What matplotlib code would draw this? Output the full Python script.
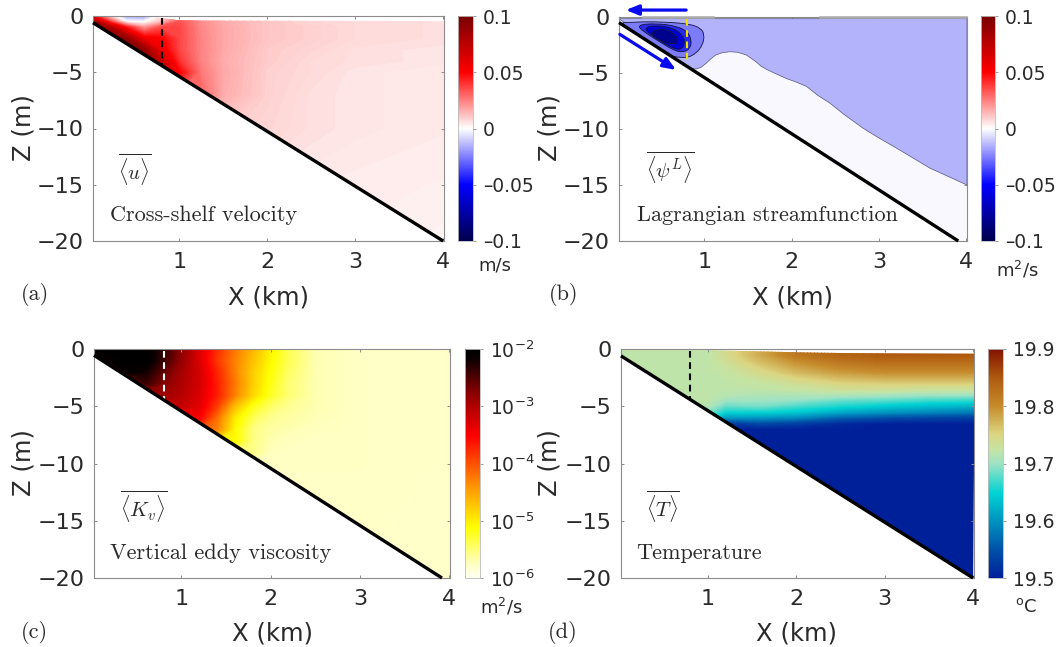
import numpy as np
import matplotlib
matplotlib.use("Agg")
import matplotlib.pyplot as plt
from matplotlib.colors import LinearSegmentedColormap, Normalize
from matplotlib.cm import ScalarMappable
from matplotlib.patches import Polygon, PathPatch
from matplotlib.path import Path

W, H = 1057, 647

# ---------- data ----------
u_x = [0.02, 0.2, 0.4, 0.6, 0.8, 1.0, 1.25, 1.5, 2.0, 2.5, 3.0, 4.02]
u_z = [0, -0.5, -1, -2, -3, -4, -5, -7, -10, -15, -20]
u_vals = [
    [.05, .01, -.02, -.02, .005, .025, .02, .014, .01, .008, .007, .006],
    [.09, .04, .0, -.002, .012, .034, .022, .016, .011, .008, .007, .006],
    [.1, .08, .045, .02, .035, .036, .023, .017, .011, .009, .007, .006],
    [.1, .1, .09, .055, .05, .036, .024, .017, .011, .009, .007, .006],
    [.1, .1, .1, .09, .055, .036, .024, .017, .01, .008, .006, .005],
    [.1, .1, .1, .1, .07, .04, .024, .016, .01, .007, .006, .005],
    [.1, .1, .1, .1, .08, .05, .026, .017, .009, .007, .005, .004],
    [.03, .03, .03, .03, .03, .03, .03, .016, .009, .006, .005, .004],
    [.01, .01, .01, .01, .01, .01, .01, .01, .008, .006, .005, .004],
    [.006, .006, .006, .006, .006, .006, .006, .006, .005, .004, .0035, .003],
    [.004, .004, .004, .004, .004, .004, .004, .004, .004, .003, .003, .002],
]
u_top_x = [0.02, 0.7, 1.0, 4.02]
u_top_z = [-0.05, -0.1, -0.4, -0.45]

k_x = [0.02, 0.2, 0.4, 0.6, 0.8, 1.0, 1.2, 1.4, 1.6, 1.8, 2.0, 2.2, 2.5, 3.0, 4.02]
k_z = [0, -1, -2, -3, -4, -5, -6, -7, -8, -9, -10, -20]
k_log = [
    [-2, -2, -2, -2, -2.35, -2.8, -3.3, -3.8, -4.25, -4.65, -5.05, -5.4, -5.7, -5.78, -5.8],
    [-2.3, -2.1, -2, -2, -2.4, -2.85, -3.3, -3.85, -4.3, -4.7, -5.1, -5.4, -5.7, -5.78, -5.8],
    [-3, -3, -2.1, -2.2, -2.6, -2.95, -3.25, -3.75, -4.3, -4.8, -5.15, -5.45, -5.7, -5.78, -5.8],
    [-3, -3, -3, -2.4, -2.75, -3.0, -3.25, -3.7, -4.25, -4.8, -5.2, -5.5, -5.7, -5.78, -5.8],
    [-3, -3, -3, -3, -2.9, -3.05, -3.3, -3.7, -4.3, -4.85, -5.25, -5.5, -5.7, -5.78, -5.8],
    [-3, -3, -3, -3, -3.1, -3.15, -3.35, -3.9, -4.7, -5.2, -5.45, -5.6, -5.7, -5.78, -5.8],
    [-3.5, -3.5, -3.5, -3.5, -3.5, -3.5, -3.5, -4.2, -5.0, -5.4, -5.6, -5.65, -5.72, -5.78, -5.8],
    [-4, -4, -4, -4, -4, -4, -4, -4.3, -5.1, -5.55, -5.65, -5.7, -5.75, -5.78, -5.8],
    [-5, -5, -5, -5, -5, -5, -5, -5, -5.1, -5.55, -5.7, -5.75, -5.78, -5.78, -5.8],
    [-5.5, -5.5, -5.5, -5.5, -5.5, -5.5, -5.5, -5.5, -5.5, -5.55, -5.75, -5.78, -5.78, -5.78, -5.8],
    [-5.75, -5.75, -5.75, -5.75, -5.75, -5.75, -5.75, -5.75, -5.75, -5.75, -5.78, -5.78, -5.78, -5.78, -5.8],
    [-5.8, -5.8, -5.8, -5.8, -5.8, -5.8, -5.8, -5.8, -5.8, -5.8, -5.8, -5.8, -5.8, -5.8, -5.8],
]
k_top_x = [0.02, 4.02]
k_top_z = [-0.03, -0.1]

t_x = [0.02, 0.5, 1.0, 1.2, 1.6, 2.0, 2.5, 3.0, 3.5, 4.02]
t_z = [0, -0.5, -1, -2, -3, -3.5, -4, -4.5, -5, -5.5, -6, -6.5, -7, -20]
t_vals = [
    [19.72, 19.72, 19.72, 19.74, 19.78, 19.82, 19.84, 19.85, 19.85, 19.85],
    [19.72, 19.72, 19.72, 19.74, 19.78, 19.82, 19.84, 19.85, 19.85, 19.85],
    [19.72, 19.72, 19.72, 19.735, 19.77, 19.80, 19.825, 19.835, 19.835, 19.835],
    [19.72, 19.72, 19.72, 19.725, 19.745, 19.77, 19.79, 19.80, 19.80, 19.80],
    [19.72, 19.72, 19.72, 19.72, 19.725, 19.735, 19.75, 19.755, 19.755, 19.755],
    [19.72, 19.72, 19.72, 19.72, 19.72, 19.725, 19.735, 19.735, 19.73, 19.73],
    [19.72, 19.72, 19.72, 19.715, 19.71, 19.71, 19.71, 19.705, 19.70, 19.70],
    [19.72, 19.72, 19.72, 19.70, 19.70, 19.695, 19.68, 19.675, 19.665, 19.66],
    [19.72, 19.72, 19.71, 19.68, 19.685, 19.67, 19.655, 19.64, 19.63, 19.62],
    [19.72, 19.72, 19.69, 19.65, 19.65, 19.64, 19.615, 19.60, 19.59, 19.58],
    [19.72, 19.72, 19.66, 19.60, 19.60, 19.59, 19.56, 19.545, 19.535, 19.53],
    [19.6, 19.6, 19.56, 19.52, 19.54, 19.53, 19.51, 19.5, 19.5, 19.5],
    [19.5, 19.5, 19.5, 19.5, 19.5, 19.5, 19.5, 19.5, 19.5, 19.5],
    [19.5, 19.5, 19.5, 19.5, 19.5, 19.5, 19.5, 19.5, 19.5, 19.5],
]
t_top_x = [0.02, 1.0, 1.8, 2.5, 4.02]
t_top_z = [-0.05, -0.1, -0.25, -0.35, -0.4]

# outer streamfunction contour
psi0_x = [0.02, 4.01, 4.01, 3.586, 3.2, 3.0, 2.82, 2.6, 2.44, 2.3, 2.17, 2.05, 1.94, 1.8, 1.71, 1.65, 1.59, 1.48, 1.38, 1.29, 1.2, 1.13, 1.07, 1.02, 0.96, 0.905, 0.81]
psi0_z = [-0.15, -0.15, -15, -13.5, -11.7, -10.8, -9.94, -8.7, -7.7, -7.0, -6.2, -5.8, -5.5, -5.0, -4.67, -4.4, -3.99, -3.39, -3.15, -3.1, -3.2, -3.39, -3.75, -4.13, -4.5, -4.64, -4.6]
psi1_x = [0.03, 0.118, 0.29, 0.56, 0.83, 0.96, 1.0, 0.98, 0.905, 0.81, 0.69, 0.56, 0.3]
psi1_z = [-0.5, -0.5, -0.42, -0.45, -0.62, -1.0, -1.6, -2.5, -3.24, -3.63, -3.6, -3.4, -2.0]
psi2_x = [0.215, 0.445, 0.675, 0.81, 0.85, 0.84, 0.75, 0.64, 0.485, 0.33]
psi2_z = [-0.71, -0.57, -0.8, -1.31, -2.05, -2.8, -3.18, -2.95, -2.2, -1.46]
psi3_x = [0.29, 0.445, 0.64, 0.75, 0.78, 0.73, 0.62, 0.445]
psi3_z = [-1.0, -0.72, -1.0, -1.6, -2.35, -2.95, -2.75, -1.9]
psi4_x = [0.39, 0.52, 0.655, 0.705, 0.655, 0.52, 0.41]
psi4_z = [-1.3, -1.0, -1.45, -2.2, -2.45, -2.2, -1.75]

# bottom line: shore depth and end of the slope
bed_a = ([0.02, 4.0], [-0.6, -20])
bed_b = ([0.02, 3.91], [-0.5, -20])
bed_c = ([0.02, 3.92], [-0.55, -20])
bed_d = ([0.02, 4.0], [-0.6, -20])

break_x = 0.8
x_ticks = [1, 2, 3, 4]
z_ticks = [0, -5, -10, -15, -20]
x_ticklabels = ["1", "2", "3", "4"]
z_ticklabels = ["0", "\u22125", "\u221210", "\u221215", "\u221220"]
vel_ticks = [0.1, 0.05, 0, -0.05, -0.1]
vel_ticklabels = ["0.1", "0.05", "0", "\u20130.05", "\u20130.1"]
kv_ticks = [-2, -3, -4, -5, -6]
kv_ticklabels = [r"$\mathdefault{10^{-2}}$", r"$\mathdefault{10^{-3}}$", r"$\mathdefault{10^{-4}}$",
                 r"$\mathdefault{10^{-5}}$", r"$\mathdefault{10^{-6}}$"]
temp_ticks = [19.9, 19.8, 19.7, 19.6, 19.5]
temp_ticklabels = ["19.9", "19.8", "19.7", "19.6", "19.5"]

# ---------- colour maps ----------
cm_rb = LinearSegmentedColormap.from_list("rb", [
    (0, "#00004c"), (0.25, "#0000ff"), (0.5, "#ffffff"), (0.75, "#ff0000"), (1, "#780000")], N=512)
cm_kv = LinearSegmentedColormap.from_list("kv", [
    (0, "#fffff4"), (0.07, "#ffffb8"), (0.22, "#ffff00"), (0.39, "#ff9a00"), (0.62, "#ff0000"),
    (0.8, "#900000"), (0.96, "#0a0000"), (1, "#000000")], N=512)
cm_t = LinearSegmentedColormap.from_list("t", [
    (0, "#00209a"), (0.12, "#0050a8"), (0.25, "#0094c0"), (0.37, "#00d2d2"), (0.5, "#9fe3c4"),
    (0.56, "#c4e4a4"), (0.63, "#dcd480"), (0.75, "#c68c2c"), (0.87, "#b05c10"), (1, "#821200")], N=512)

# ---------- helpers ----------
fig = plt.figure(figsize=(W / 100, H / 100), dpi=100)
GREY = "#8c8c8c"
TXT = "#2a2a2a"


def px_axes(l, r, t, b):
    return fig.add_axes([l / W, 1 - b / H, (r - l) / W, (b - t) / H])


def ftext(px, py, s, **kw):
    return fig.text(px / W, 1 - py / H, s, **kw)


def style(ax):
    ax.set_xlim(0.02, 4.01)
    ax.set_ylim(-20, 0)
    ax.set_xticks(x_ticks, x_ticklabels)
    ax.set_yticks(z_ticks, z_ticklabels)
    ax.tick_params(axis="both", direction="in", length=2.5, width=0.7, color=GREY,
                   labelsize=16, labelcolor=TXT, top=True, right=True)
    ax.tick_params(axis="y", pad=7)
    ax.tick_params(axis="x", pad=8)
    for s in ax.spines.values():
        s.set_color(GREY)
        s.set_linewidth(0.8)


def wedge(top_x, top_z, bed, extra=None):
    pts = list(zip(top_x, top_z))
    if extra:
        pts += extra
    pts += [(bed[0][1], bed[1][1]), (bed[0][0], bed[1][0])]
    return pts


def field(ax, xs, zs, vals, cmap, vmin, vmax, clip_pts):
    lev = np.linspace(vmin, vmax, 257)
    cs = ax.contourf(xs, zs, vals, levels=lev, cmap=cmap, extend="both", antialiased=False)
    clip = Polygon(clip_pts, closed=True, transform=ax.transData)
    cs.set_clip_path(clip)


def bed_line(ax, bed):
    ax.plot(bed[0], bed[1], color="black", lw=2.4, solid_capstyle="butt", clip_on=False, zorder=6)


def break_line(ax, bed, color):
    frac = (break_x - bed[0][0]) / (bed[0][1] - bed[0][0])
    ax.plot([break_x, break_x], [-0.15, bed[1][0] + frac * (bed[1][1] - bed[1][0])],
            color=color, lw=1.5, dashes=(3.2, 2.2), zorder=5)


def cbar(l, r, t, b, cmap, vmin, vmax, ticks, labels, pad):
    cax = px_axes(l, r, t, b)
    sm = ScalarMappable(norm=Normalize(vmin, vmax), cmap=cmap)
    cb = fig.colorbar(sm, cax=cax)
    cb.set_ticks(ticks, labels=labels)
    cax.tick_params(length=2, width=0.6, color=GREY, labelsize=13.5, labelcolor=TXT, pad=pad)
    cb.outline.set_edgecolor("#bbbbbb")
    cb.outline.set_linewidth(0.6)
    return cb


def smooth(xs, zs):
    p = np.column_stack([xs, zs])
    mid = (p + np.roll(p, -1, axis=0)) / 2
    verts = [mid[-1]]
    codes = [Path.MOVETO]
    for i in range(len(p)):
        verts += [p[i], mid[i]]
        codes += [Path.CURVE3, Path.CURVE3]
    return Path(verts, codes)


serif = dict(family="cmr10", color=TXT, va="center", ha="left")
serif_size = 16
math = dict(math_fontfamily="cm", color=TXT, va="center", ha="center", fontsize=15)
lab = dict(color=TXT, fontsize=17.5, va="center", ha="center")
unit = dict(color=TXT, fontsize=13, va="center", ha="left")
ARROW = dict(arrowstyle="-|>,head_width=0.3,head_length=0.75", color="#0a0aee", lw=2.3, shrinkA=0, shrinkB=0)

# ---------- panel a ----------
ax = px_axes(93, 444, 16, 241)
style(ax)
field(ax, u_x, u_z, u_vals, cm_rb, -0.1, 0.1, wedge(u_top_x, u_top_z, bed_a))
bed_line(ax, bed_a)
break_line(ax, bed_a, "black")
cbar(458, 473, 16, 241, cm_rb, -0.1, 0.1, vel_ticks, vel_ticklabels, 5)

# ---------- panel b ----------
ax = px_axes(619, 967, 17, 241)
style(ax)
clip_xy = wedge([0.02, 4.01], [-0.05, -0.05], bed_b, extra=[(4.01, -20)])
ax.add_patch(Polygon(clip_xy, closed=True, transform=ax.transData,
                     facecolor="#f8f8fe", edgecolor="none", zorder=1))
for art in ax.fill(psi0_x, psi0_z, facecolor="#b3b3fc", edgecolor="#55557a", lw=0.5, zorder=2):
    art.set_clip_path(Polygon(clip_xy, closed=True, transform=ax.transData))
for xs, zs, col in [(psi1_x, psi1_z, "#7c7cf8"), (psi2_x, psi2_z, "#2a2aee"),
                    (psi3_x, psi3_z, "#0000d4"), (psi4_x, psi4_z, "#00008e")]:
    pp = PathPatch(smooth(xs, zs), facecolor=col, edgecolor="#14143c", lw=0.6,
                   transform=ax.transData, zorder=3)
    ax.add_patch(pp)
    pp.set_clip_path(Polygon(clip_xy, closed=True, transform=ax.transData))
ax.plot([0.3, 1.1], [0, 0], color="#aaaaaa", lw=1.8, zorder=4, clip_on=False)
ax.plot([2.32, 4.0], [0, 0], color="#aaaaaa", lw=1.8, zorder=4, clip_on=False)
bed_line(ax, bed_b)
break_line(ax, bed_b, "#f0e000")
ax.annotate("", xy=(0.097, 0.62), xytext=(0.79, 0.62), annotation_clip=False, arrowprops=ARROW)
ax.annotate("", xy=(0.675, -4.73), xytext=(0.03, -1.55), annotation_clip=False, arrowprops=ARROW)
cbar(981, 995, 16, 241, cm_rb, -0.1, 0.1, vel_ticks, vel_ticklabels, 5)

# ---------- panel c ----------
ax = px_axes(94, 450, 349, 578)
style(ax)
field(ax, k_x, k_z, k_log, cm_kv, -6, -2, wedge(k_top_x, k_top_z, bed_c, extra=[(4.02, -20)]))
bed_line(ax, bed_c)
break_line(ax, bed_c, "white")
cbar(465, 480, 349, 578, cm_kv, -6, -2, kv_ticks, kv_ticklabels, 5)

# ---------- panel d ----------
ax = px_axes(621, 974, 349, 578)
style(ax)
field(ax, t_x, t_z, t_vals, cm_t, 19.5, 19.9, wedge(t_top_x, t_top_z, bed_d))
bed_line(ax, bed_d)
break_line(ax, bed_d, "black")
cbar(988, 1003, 349, 578, cm_t, 19.5, 19.9, temp_ticks, temp_ticklabels, 5)

# ---------- figure texts ----------
for px, py in [(23, 128), (550, 128), (23, 463), (550, 463)]:
    ftext(px, py, "Z (m)", rotation=90, **lab)
for px, py in [(268, 298), (793, 298), (273, 633), (797, 633)]:
    ftext(px, py, "X (km)", **lab)

ftext(135, 170, r"$\overline{\langle u \rangle}$", **math)
ftext(670, 168, r"$\overline{\langle \psi^{L} \rangle}$", **math)
ftext(144, 507, r"$\overline{\langle K_v \rangle}$", **math)
ftext(663, 507, r"$\overline{\langle T \rangle}$", **math)

ftext(110, 215, "Cross-shelf velocity", fontsize=serif_size, **serif)
ftext(637, 215, "Lagrangian streamfunction", fontsize=serif_size, **serif)
ftext(110, 553, "Vertical eddy viscosity", fontsize=serif_size, **serif)
ftext(636, 553, "Temperature", fontsize=serif_size, **serif)

ftext(21, 295, "(a)", fontsize=serif_size, **serif)
ftext(549, 295, "(b)", fontsize=serif_size, **serif)
ftext(21, 632, "(c)", fontsize=serif_size, **serif)
ftext(548, 632, "(d)", fontsize=serif_size, **serif)

ftext(478, 265, "m/s", **unit)
ftext(996, 270, "m$^2$/s", **unit)
ftext(480, 607, "m$^2$/s", **unit)
ftext(1015, 607, "$^{\\mathrm{o}}$C", **unit)

fig.savefig("out.png", dpi=100)
